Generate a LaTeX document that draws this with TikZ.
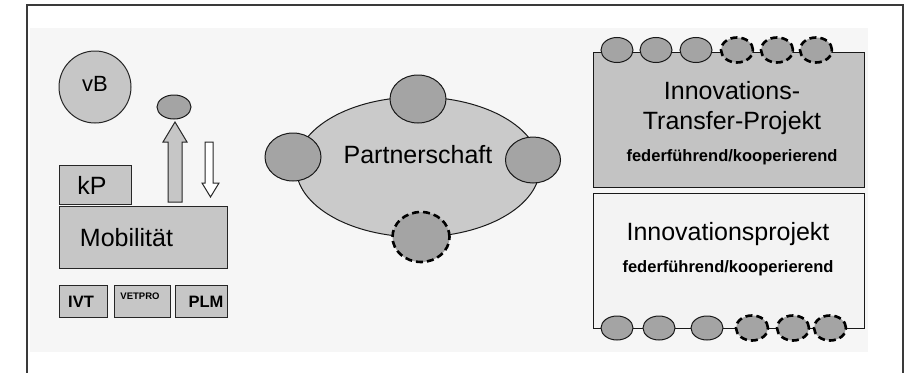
\documentclass[tikz,border=0pt]{standalone}
\usepackage{fontspec}
\setmainfont{Liberation Sans}
\usetikzlibrary{shapes.geometric}
\definecolor{bgc}{HTML}{F6F6F6}
\definecolor{boxc}{HTML}{C6C6C6}
\definecolor{dotc}{HTML}{A4A4A4}
\definecolor{ellc}{HTML}{CACACA}
\definecolor{itpc}{HTML}{C3C3C3}
\definecolor{ipc}{HTML}{F3F3F3}
\definecolor{framec}{HTML}{3A3A3A}
\tikzset{
  gbox/.style={draw=black!85, line width=1pt, fill=boxc},
  dot/.style={ellipse, draw=black!90, line width=1pt, fill=dotc, inner sep=0pt},
  dashdot/.style={dot, draw=black, dash pattern=on 7pt off 4pt, line width=2.6pt},
  lbl/.style={anchor=base, inner sep=0pt, font=\fontsize{25}{28}\selectfont},
  slbl/.style={anchor=base, inner sep=0pt, font=\bfseries\fontsize{16.5}{18}\selectfont},
}
\begin{document}
\begin{tikzpicture}[x=1pt,y=-1pt]
\useasboundingbox (0,0) rectangle (920,372);
\fill[white] (0,0) rectangle (920,372);
% frame
\draw[framec, line width=1.8pt] (27,380) -- (27,5) -- (903,5) -- (903,380);
\fill[bgc] (30,28) rectangle (868,352);

% left part
\node[circle, draw=black!85, line width=1pt, fill=boxc, minimum size=72pt, inner sep=0pt] (vB) at (95,87) {};
\node[lbl, font=\fontsize{22}{26}\selectfont] (vBt) at (95,91) {vB};

\node[dot, minimum width=34pt, minimum height=24pt] (mini) at (174,107) {};
\draw[gbox] (168,202) -- (168,142) -- (163,142) -- (175,122) -- (187,142) -- (182,142) -- (182,202) -- cycle;
\draw[draw=black!85, line width=1pt, fill=white] (205,142) -- (205,183) -- (202,183) -- (210.5,197) -- (219,183) -- (213,183) -- (213,142) -- cycle;

\node[gbox, minimum width=72pt, minimum height=39pt, inner sep=0pt] (kP) at (95,184.5) {};
\node[lbl] (kPt) at (92,194) {kP};
\node[gbox, minimum width=168pt, minimum height=62pt, inner sep=0pt] (mob) at (143,237) {};
\node[lbl] (mobt) at (126.5,246) {Mobilität};

\node[gbox, minimum width=48pt, minimum height=32pt, inner sep=0pt] (ivt) at (83,301) {};
\node[slbl] (ivtt) at (81,307) {IVT};
\node[gbox, minimum width=56pt, minimum height=32pt, inner sep=0pt] (vet) at (142,301) {};
\node[slbl, font=\bfseries\fontsize{9.5}{11}\selectfont] (vett) at (140,299) {VETPRO};
\node[gbox, minimum width=52pt, minimum height=32pt, inner sep=0pt] (plm) at (201,301) {};
\node[slbl] (plmt) at (206,307) {PLM};

% partnership
\node[ellipse, draw=black!90, line width=1pt, fill=ellc, minimum width=244pt, minimum height=140pt, inner sep=0pt] (part) at (418,167) {};
\node[lbl] (partt) at (418,163) {Partnerschaft};
\node[dot, minimum width=56pt, minimum height=48pt] (pt) at (418,99) {};
\node[dot, minimum width=56pt, minimum height=48pt] (pl) at (293,157) {};
\node[dot, minimum width=55pt, minimum height=46pt] (pr) at (533,160) {};
\node[dashdot, minimum width=57pt, minimum height=50pt] (pb) at (421,237) {};

% right boxes
\draw[draw=black!90, line width=1pt, fill=itpc] (593,52) rectangle (864,187);
\node[draw=black!90, line width=1pt, fill=ipc, minimum width=271pt, minimum height=135pt, inner sep=0pt, anchor=north west] (ip) at (593,193) {};
\node[lbl] (t1) at (732,99) {Innovations-};
\node[lbl] (t2) at (732,129) {Transfer-Projekt};
\node[slbl] (t3) at (732,161) {federführend/kooperierend};
\node[lbl] (t4) at (728,240) {Innovationsprojekt};
\node[slbl] (t5) at (728,272) {federführend/kooperierend};

% top row of dots
\node[dot, minimum width=32pt, minimum height=25pt] (a1) at (617,50) {};
\node[dot, minimum width=32pt, minimum height=25pt] (a2) at (656,50) {};
\node[dot, minimum width=32pt, minimum height=25pt] (a3) at (696,50) {};
\node[dashdot, minimum width=32pt, minimum height=25pt] (a4) at (737,50) {};
\node[dashdot, minimum width=32pt, minimum height=25pt] (a5) at (777,50) {};
\node[dashdot, minimum width=32pt, minimum height=25pt] (a6) at (816,50) {};

% bottom row of dots
\node[dot, minimum width=32pt, minimum height=24pt] (b1) at (617,328) {};
\node[dot, minimum width=32pt, minimum height=24pt] (b2) at (659,328) {};
\node[dot, minimum width=32pt, minimum height=24pt] (b3) at (707,328) {};
\node[dashdot, minimum width=32pt, minimum height=25pt] (b4) at (752,328) {};
\node[dashdot, minimum width=32pt, minimum height=25pt] (b5) at (793,328) {};
\node[dashdot, minimum width=32pt, minimum height=25pt] (b6) at (830,328) {};
\end{tikzpicture}
\end{document}
